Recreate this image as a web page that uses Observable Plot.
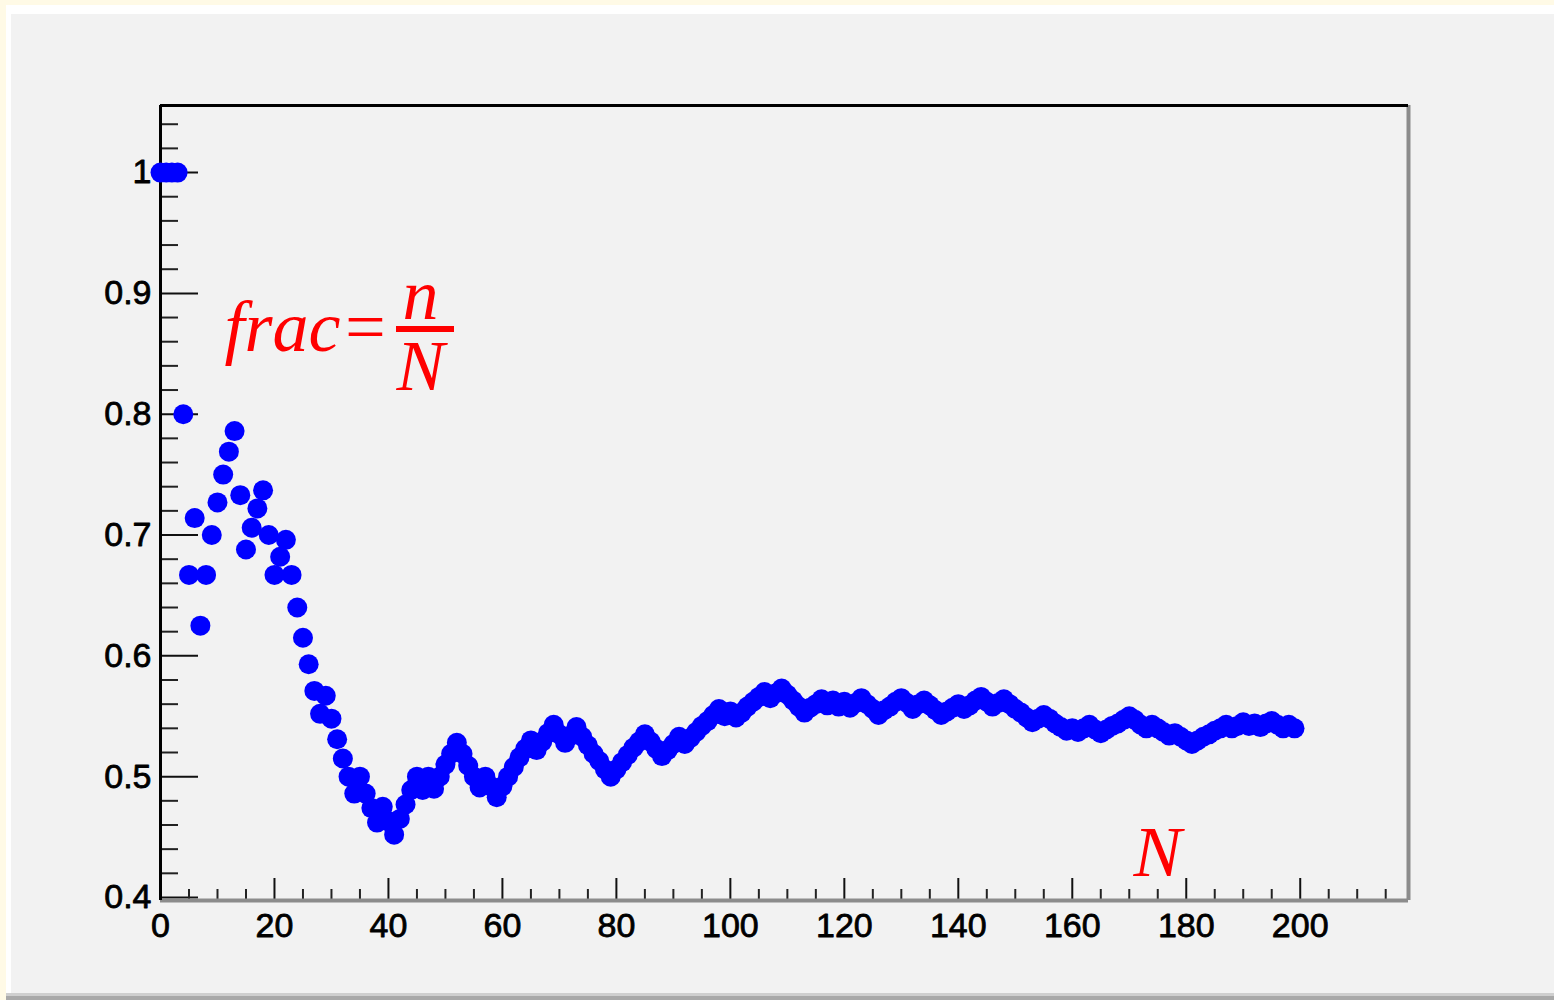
<!DOCTYPE html>
<html><head><meta charset="utf-8">
<script src="https://cdn.jsdelivr.net/npm/d3@7"></script>
<script src="https://cdn.jsdelivr.net/npm/@observablehq/plot@0.6"></script>
<style>
html,body{margin:0;padding:0;width:1554px;height:1000px;overflow:hidden;background:#f2f2f2;}
.band{position:absolute;}
#chart{position:absolute;left:0;top:0;}
</style></head><body>
<div class="band" style="left:0;top:0;width:1554px;height:5px;background:#fffae6"></div>
<div class="band" style="left:0;top:0;width:6px;height:1000px;background:#fffae6"></div>
<div class="band" style="left:6px;top:5px;width:1548px;height:9px;background:#ffffff"></div>
<div class="band" style="left:6px;top:5px;width:5px;height:995px;background:#ffffff"></div>
<div class="band" style="left:6px;top:993px;width:1548px;height:3px;background:#cfcfcf"></div>
<div class="band" style="left:6px;top:996px;width:1548px;height:4px;background:#a9a9a9"></div>
<div id="chart"></div>
<script>
// fraction n/N after each trial (index = N axis value)
const frac = [
  1, 1, 1, 1, 0.8, 0.667, 0.714, 0.625, 0.667, 0.7,
  0.727, 0.75, 0.769, 0.786, 0.733, 0.688, 0.706, 0.722, 0.737, 0.7,
  0.667, 0.682, 0.696, 0.667, 0.64, 0.615, 0.593, 0.571, 0.552, 0.567,
  0.548, 0.531, 0.515, 0.5, 0.486, 0.5, 0.486, 0.474, 0.462, 0.475,
  0.463, 0.452, 0.465, 0.477, 0.489, 0.5, 0.489, 0.5, 0.49, 0.5,
  0.51, 0.519, 0.528, 0.519, 0.509, 0.5, 0.491, 0.5, 0.492, 0.483,
  0.492, 0.5, 0.508, 0.516, 0.523, 0.53, 0.522, 0.529, 0.536, 0.543,
  0.535, 0.528, 0.534, 0.541, 0.533, 0.526, 0.519, 0.513, 0.506, 0.5,
  0.506, 0.512, 0.518, 0.524, 0.529, 0.535, 0.529, 0.523, 0.517, 0.522,
  0.527, 0.533, 0.527, 0.532, 0.537, 0.542, 0.546, 0.551, 0.556, 0.55,
  0.554, 0.549, 0.553, 0.558, 0.562, 0.566, 0.57, 0.565, 0.569, 0.573,
  0.568, 0.563, 0.558, 0.553, 0.557, 0.56, 0.564, 0.559, 0.563, 0.558,
  0.562, 0.557, 0.561, 0.565, 0.56, 0.556, 0.551, 0.555, 0.558, 0.562,
  0.565, 0.561, 0.556, 0.56, 0.563, 0.559, 0.555, 0.551, 0.554, 0.557,
  0.56, 0.556, 0.559, 0.563, 0.566, 0.562, 0.558, 0.561, 0.564, 0.56,
  0.556, 0.553, 0.549, 0.545, 0.548, 0.551, 0.548, 0.544, 0.541, 0.538,
  0.54, 0.537, 0.54, 0.543, 0.539, 0.536, 0.539, 0.542, 0.544, 0.547,
  0.55, 0.547, 0.543, 0.54, 0.543, 0.54, 0.537, 0.534, 0.536, 0.533,
  0.53, 0.527, 0.53, 0.533, 0.535, 0.538, 0.54, 0.543, 0.54, 0.542,
  0.545, 0.542, 0.544, 0.541, 0.544, 0.546, 0.543, 0.54, 0.543, 0.54
];
const xMajor = [0, 20, 40, 60, 80, 100, 120, 140, 160, 180, 200];
const xLabels = ["0", "20", "40", "60", "80", "100", "120", "140", "160", "180", "200"];
const xMinor = [5, 10, 15, 25, 30, 35, 45, 50, 55, 65, 70, 75, 85, 90, 95, 105, 110, 115,
  125, 130, 135, 145, 150, 155, 165, 170, 175, 185, 190, 195, 205, 210, 215];
const yMajor = [0.4, 0.5, 0.6, 0.7, 0.8, 0.9, 1.0];
const yLabels = ["0.4", "0.5", "0.6", "0.7", "0.8", "0.9", "1"];
const yMinor = [0.42, 0.44, 0.46, 0.48, 0.52, 0.54, 0.56, 0.58, 0.62, 0.64, 0.66, 0.68,
  0.72, 0.74, 0.76, 0.78, 0.82, 0.84, 0.86, 0.88, 0.92, 0.94, 0.96, 0.98, 1.02, 1.04];
const xDomain = [0, 219];
const yDomain = [0.3975, 1.0555];

const W = 1554, H = 1000, mL = 160, mT = 105, mR = 146, mB = 100;
const fw = W - mL - mR, fh = H - mT - mB;
const red = "#ff0000";
const redText = {frameAnchor: "top-left", lineAnchor: "bottom", fontSize: 72, fontStyle: "italic",
  fontFamily: "Liberation Serif", fill: red};

const plot = Plot.plot({
  width: W, height: H,
  marginLeft: mL, marginTop: mT, marginRight: mR, marginBottom: mB,
  x: {domain: xDomain, axis: null},
  y: {domain: yDomain, axis: null},
  style: {background: "transparent", fontFamily: "'Liberation Sans',Arial,sans-serif", overflow: "visible"},
  marks: [
    Plot.tickY(yMinor, {y: d => d, insetRight: fw - 18, stroke: "#222", strokeWidth: 2}),
    Plot.tickY(yMajor, {y: d => d, insetRight: fw - 38, stroke: "#111", strokeWidth: 2}),
    Plot.tickX(xMinor, {x: d => d, insetTop: fh - 11, stroke: "#222", strokeWidth: 2}),
    Plot.tickX(xMajor, {x: d => d, insetTop: fh - 22, stroke: "#111", strokeWidth: 2}),
    Plot.ruleY([yDomain[0]], {stroke: "#8c8c8c", strokeWidth: 4}),
    Plot.ruleX([xDomain[1]], {stroke: "#8c8c8c", strokeWidth: 4}),
    Plot.ruleY([yDomain[1]], {stroke: "#000", strokeWidth: 3}),
    Plot.ruleX([xDomain[0]], {stroke: "#000", strokeWidth: 3}),
    Plot.text(yMajor, {y: d => d, text: (d, i) => yLabels[i], frameAnchor: "left", textAnchor: "end", dx: -9, fontSize: 34, fill: "#000", stroke: "#000", strokeWidth: 0.8}),
    Plot.text(xMajor, {x: d => d, text: (d, i) => xLabels[i], frameAnchor: "bottom", lineAnchor: "top", dy: 12, fontSize: 34, fill: "#000", stroke: "#000", strokeWidth: 0.8}),
    Plot.dot(frac, {x: (d, i) => i, y: d => d, r: 10, fill: "#0000ff", stroke: null}),
    Plot.text(["frac="], {...redText, text: d => d, textAnchor: "start", dx: 64, dy: 245}),
    Plot.text(["n\nN"], {...redText, text: d => d, textAnchor: "middle", lineHeight: 0.986, dx: 260, dy: 284}),
    Plot.text(["N"], {...redText, text: d => d, textAnchor: "middle", dx: 997, dy: 770})
  ]
});
// fraction bar of the n/N annotation
d3.select(plot).append("line")
  .attr("x1", mL + 236).attr("x2", mL + 294)
  .attr("y1", mT + 224).attr("y2", mT + 224)
  .attr("stroke", red).attr("stroke-width", 6);
document.getElementById("chart").appendChild(plot);
</script>
</body></html>
